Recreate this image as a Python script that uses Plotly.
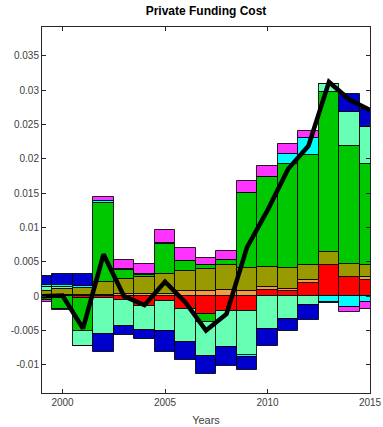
import plotly.graph_objects as go

# Years on the horizontal axis
years = list(range(1999, 2016))

# Contributions to private funding cost, one array per component
red = [0.0001, 0.0001, -0.0002, -0.0002, -0.0006, -0.0015, -0.0007, -0.0018, -0.0026,
       -0.0022, -0.0021, 0.0009, 0.0007, 0.0019, 0.0046, 0.0028, 0.0024]
orange = [0.0001, 0.0001, 0.0001, 0.0002, 0.0003, 0.0003, 0.0003, 0.0008, 0.0008,
          0.0009, 0.0008, 0.0005, 0.0004, 0.0004, 0.0, 0.0, 0.0004]
olive = [0.0006, 0.0009, 0.0011, 0.0018, 0.0022, 0.0025, 0.0029, 0.0029, 0.0032,
         0.0036, 0.0033, 0.0028, 0.0030, 0.0023, 0.0018, 0.0019, 0.0017]
green_a = [0.0, 0.0, 0.0, 0.0116, 0.0013, 0.0003, 0.0044, 0.0014, 0.0005,
           0.0007, 0.0109, 0.0131, 0.0152, 0.0159, 0.0234, 0.0172, 0.0148]
green_b = [-0.0006, -0.0018, -0.0049, 0.0, 0.0, 0.0, 0.0, 0.0, -0.0012,
           0.0, 0.0, 0.0, 0.0, 0.0, 0.0, 0.0, 0.0]
aqua = [0.0006, 0.0003, -0.0021, -0.0053, -0.0037, -0.0034, -0.0044, -0.0049, -0.0049,
        -0.0052, -0.0064, -0.0048, -0.0033, -0.0013, 0.0011, 0.0049, 0.0053]
cyan = [0.0003, 0.0002, 0.0003, 0.0003, 0.0002, 0.0001, 0.0002, 0.0, 0.0,
        0.0, -0.0003, 0.0, 0.0014, 0.0026, -0.0008, -0.0016, -0.0009]
blue = [0.0012, 0.0016, 0.0017, -0.0026, -0.0013, -0.0014, -0.0031, -0.0026, -0.0026,
        -0.0027, -0.0020, -0.0025, -0.0017, -0.0022, -0.0002, 0.0027, 0.0027]
magenta = [-0.0003, -0.0002, -0.0001, 0.0005, 0.0012, 0.0015, 0.0019, 0.0019, 0.0011,
           0.0014, 0.0018, 0.0016, 0.0014, 0.0009, 0.0, -0.0007, -0.0010]

# Total private funding cost
total = [0.0, 0.0001, -0.0047, 0.0061, 0.0, -0.0013, 0.0021, -0.0009, -0.0050,
         -0.0026, 0.0071, 0.0125, 0.0185, 0.0219, 0.0312, 0.0286, 0.0271]

components = [
    (red, "#FF0000"),
    (orange, "#F39A45"),
    (olive, "#999900"),
    (green_a, "#00C800"),
    (green_b, "#00C800"),
    (aqua, "#66FFB3"),
    (cyan, "#00FFFF"),
    (blue, "#0000CC"),
    (magenta, "#FF33FF"),
]

fig = go.Figure()
for values, color in components:
    fig.add_trace(go.Bar(
        x=years, y=values, width=1.0,
        marker=dict(color=color, line=dict(color="rgba(0,0,0,0.85)", width=1)),
        showlegend=False, hoverinfo="skip",
    ))

fig.add_trace(go.Scatter(
    x=years, y=total, mode="lines",
    line=dict(color="black", width=4.5),
    showlegend=False,
))

font_family = "Liberation Sans, Arial, sans-serif"
axis_font = dict(family=font_family, size=10, color="#404040")

fig.update_layout(
    width=383, height=427,
    margin=dict(l=42, r=13, t=27, b=34),
    barmode="relative", bargap=0,
    plot_bgcolor="white", paper_bgcolor="white",
    title=dict(text="<b>Private Funding Cost</b>", x=0.5, xanchor="center",
               xref="paper", y=0.985, yanchor="top",
               font=dict(family=font_family, size=12, color="black")),
    xaxis=dict(
        range=[1999, 2015], tickvals=[2000, 2005, 2010, 2015],
        ticks="inside", ticklen=4, tickcolor="#262626",
        showline=True, linecolor="#262626", linewidth=1, mirror="ticks",
        showgrid=False, zeroline=False, tickfont=axis_font, automargin=False,
        title=dict(text="Years", font=dict(family=font_family, size=11, color="#404040"),
                   standoff=9),
    ),
    yaxis=dict(
        range=[-0.0141, 0.0392],
        tickvals=[-0.01, -0.005, 0, 0.005, 0.01, 0.015, 0.02, 0.025, 0.03, 0.035],
        ticktext=["-0.01", "-0.005", "0", "0.005", "0.01", "0.015", "0.02", "0.025", "0.03", "0.035"],
        ticks="inside", ticklen=4, tickcolor="#262626",
        showline=True, linecolor="#262626", linewidth=1, mirror="ticks",
        showgrid=False, zeroline=False, tickfont=axis_font, automargin=False,
    ),
)

fig.write_html("out.html")
